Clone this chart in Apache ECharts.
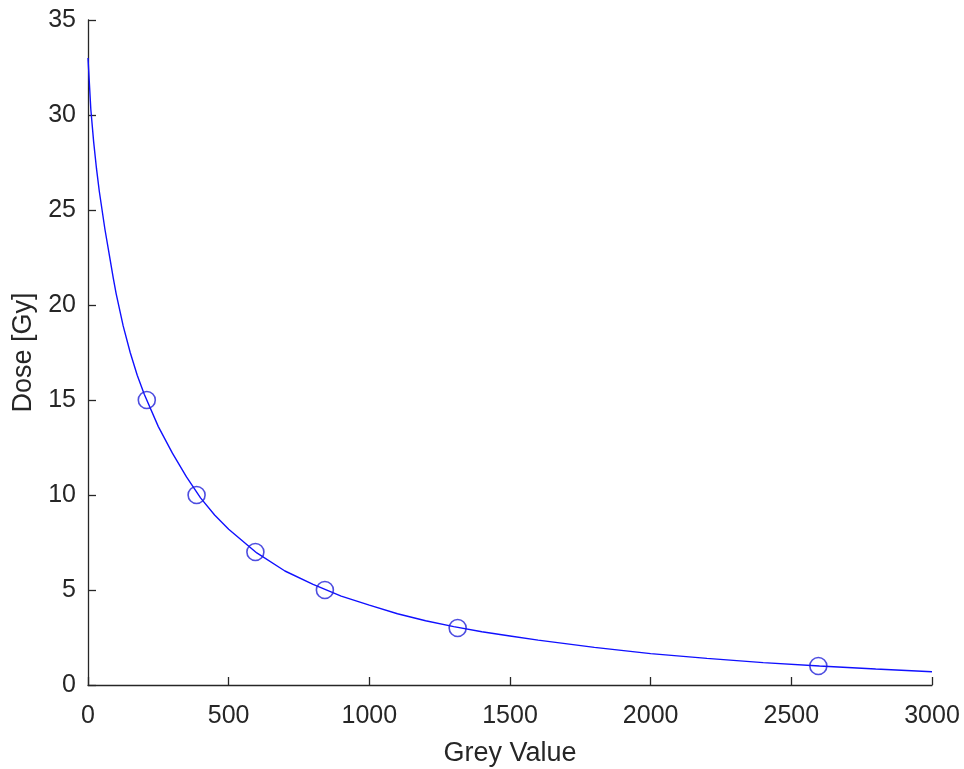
<!DOCTYPE html>
<html>
<head>
<meta charset="utf-8">
<script src="https://cdn.jsdelivr.net/npm/echarts@6/dist/echarts.min.js"></script>
<style>
  html, body { margin: 0; padding: 0; background: #fff; }
  #chart { width: 964px; height: 769px; }
</style>
</head>
<body>
<div id="chart"></div>
<script>
// Measured calibration points: grey value vs. dose
const measuredGrey = [209, 386, 595, 842, 1314, 2596];
const measuredDose = [15, 10, 7, 5, 3, 1];

// Fitted calibration curve, sampled along the grey-value range
const fitGrey = [0, 10, 20, 30, 40, 50, 60, 75, 90, 100, 125, 150, 175, 200, 250, 300, 350, 400,
                 450, 500, 600, 700, 800, 900, 1000, 1100, 1200, 1300, 1400, 1500, 1600, 1800,
                 2000, 2200, 2400, 2600, 2800, 3000];
const fitDose = [33.0, 30.3, 28.6, 27.2, 26.0, 25.0, 24.0, 22.7, 21.4, 20.6, 18.9, 17.5, 16.3, 15.3,
                 13.6, 12.2, 10.95, 9.85, 8.95, 8.2, 6.95, 6.0, 5.3, 4.68, 4.2, 3.75, 3.38, 3.07,
                 2.8, 2.58, 2.36, 1.98, 1.65, 1.4, 1.18, 1.0, 0.84, 0.7];

const xTicks = [0, 500, 1000, 1500, 2000, 2500, 3000];
const yTicks = [0, 5, 10, 15, 20, 25, 30, 35];

const axisColor = '#262626';
const lineBlue = '#1010ff';
const markerBlue = '#2020d8';
const font = 'Liberation Sans, Arial, Helvetica, sans-serif';

const chart = echarts.init(document.getElementById('chart'), null, { renderer: 'canvas' });

chart.setOption({
  backgroundColor: '#ffffff',
  animation: false,
  grid: { left: 88, top: 20, right: 32, bottom: 84, containLabel: false, outerBoundsMode: 'none' },
  xAxis: {
    type: 'value',
    min: xTicks[0],
    max: xTicks[xTicks.length - 1],
    interval: 500,
    name: 'Grey Value',
    nameLocation: 'middle',
    nameGap: 55,
    nameTextStyle: { color: axisColor, fontSize: 27, fontFamily: font },
    axisLine: { show: true, onZero: false, lineStyle: { color: axisColor, width: 1.3 } },
    axisTick: { show: true, inside: true, length: 8, lineStyle: { color: axisColor, width: 1.3 } },
    axisLabel: { color: axisColor, fontSize: 25, fontFamily: font, margin: 19,
                 formatter: v => String(v) },
    splitLine: { show: false }
  },
  yAxis: {
    type: 'value',
    min: yTicks[0],
    max: yTicks[yTicks.length - 1],
    interval: 5,
    name: 'Dose [Gy]',
    nameLocation: 'middle',
    nameGap: 49,
    nameRotate: 90,
    nameTextStyle: { color: axisColor, fontSize: 27, fontFamily: font },
    axisLine: { show: true, onZero: false, lineStyle: { color: axisColor, width: 1.3 } },
    axisTick: { show: true, inside: true, length: 8, lineStyle: { color: axisColor, width: 1.3 } },
    axisLabel: { color: axisColor, fontSize: 25, fontFamily: font, margin: 12,
                 formatter: v => String(v) },
    splitLine: { show: false }
  },
  series: [
    {
      type: 'line',
      data: fitGrey.map((g, i) => [g, fitDose[i]]),
      showSymbol: false,
      smooth: false,
      lineStyle: { color: lineBlue, width: 1.4 },
      z: 2
    },
    {
      type: 'scatter',
      data: measuredGrey.map((g, i) => [g, measuredDose[i]]),
      symbol: 'circle',
      symbolSize: 17,
      itemStyle: { color: 'transparent', borderColor: markerBlue, borderWidth: 1.6 },
      z: 3
    }
  ]
});
</script>
</body>
</html>
